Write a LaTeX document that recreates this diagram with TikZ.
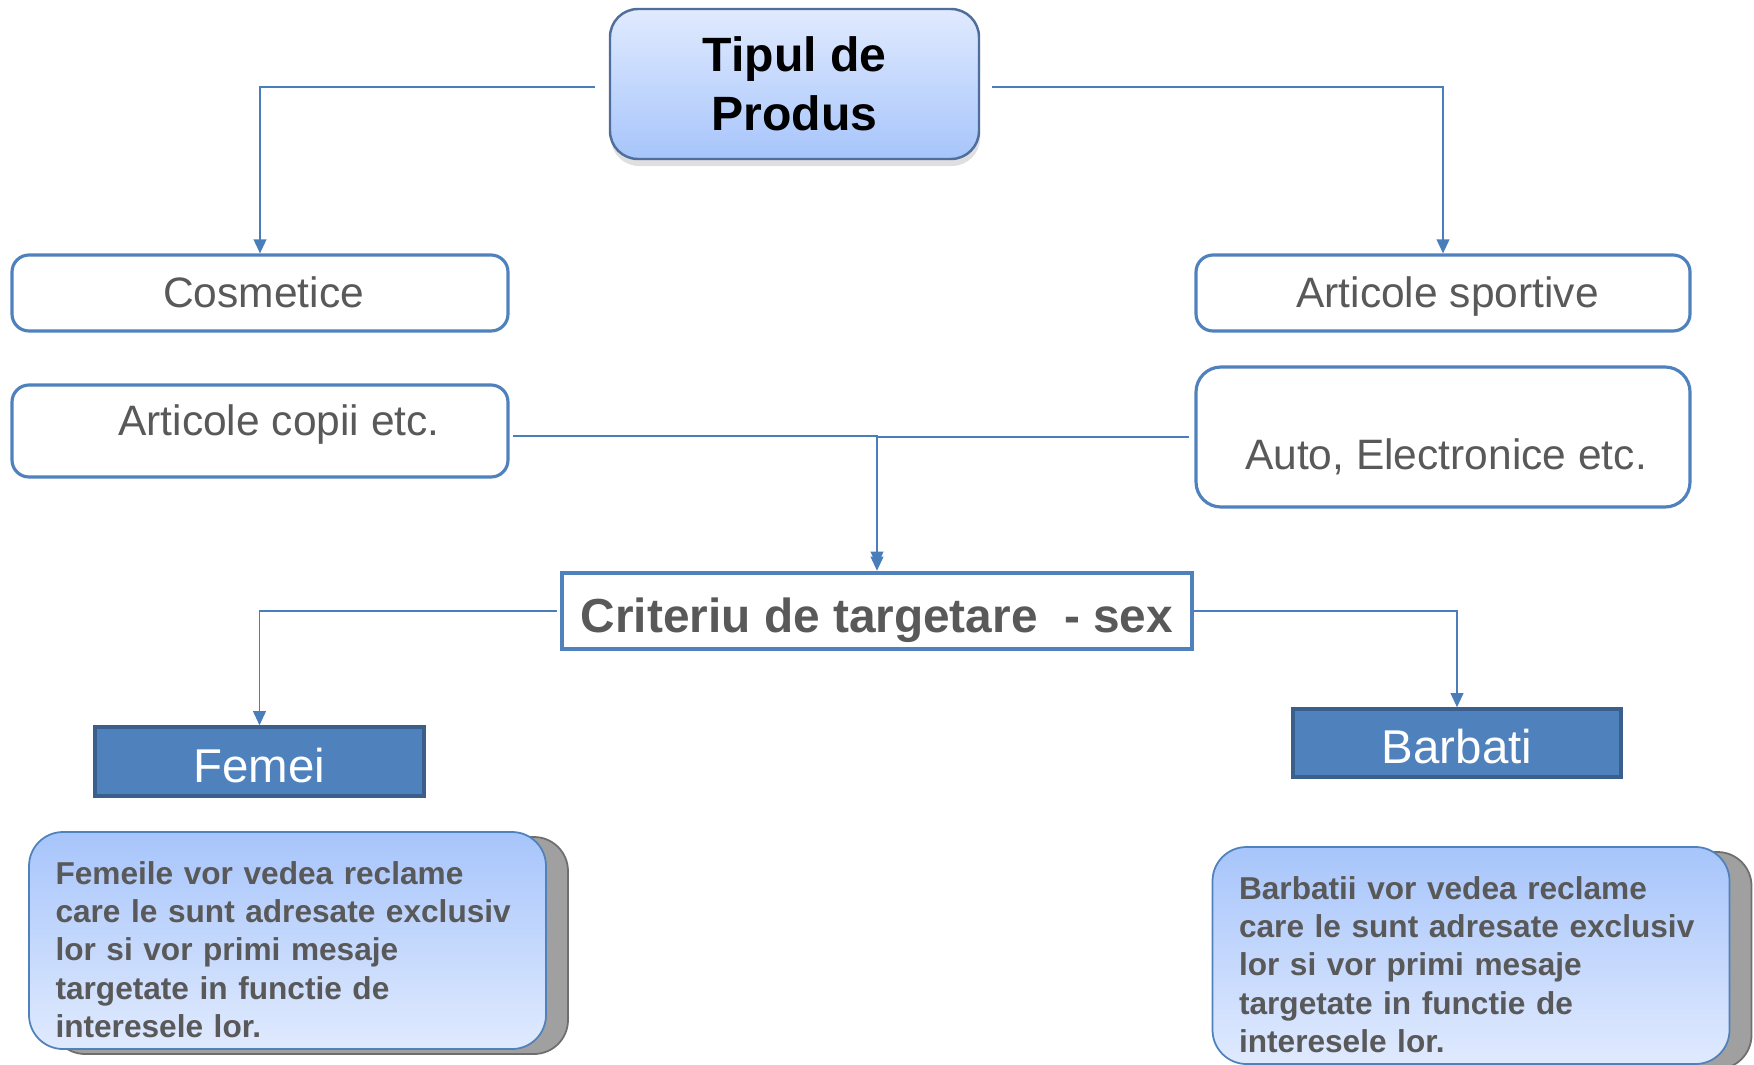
\documentclass[tikz,border=0pt]{standalone}
\usepackage{fontspec}
\setmainfont{Liberation Sans}
\usetikzlibrary{arrows.meta,shadows}

\definecolor{linkblue}{HTML}{4A7EBB}
\definecolor{boxblue}{HTML}{4F81BD}
\definecolor{boxedge}{HTML}{3A5F8C}
\definecolor{topedge}{HTML}{4F6E9C}
\definecolor{txtgray}{HTML}{595959}
\definecolor{paleblue}{HTML}{E0EAFE}
\definecolor{skyblue}{HTML}{A7C5FB}
\definecolor{shadegray}{HTML}{A0A0A0}
\definecolor{shadeedge}{HTML}{6E6E6E}

\tikzset{
  conn/.style={draw=linkblue, line width=0.55pt, -{Triangle[width=3.6pt,length=4pt]},
    to path={-| (\tikztotarget)}},
  cattext/.style={text=txtgray, font=\fontsize{12.1pt}{14pt}\selectfont, text height=2.9mm, text depth=0pt},
  catbox/.style={draw=boxblue, line width=0.9pt, rounded corners=1.7mm,
    fill=white, minimum width=49.6mm, inner sep=0pt},
  sexbox/.style={draw=boxedge, line width=1pt, fill=boxblue, text=white,
    font=\fontsize{13.5pt}{16pt}\selectfont, text height=4.1mm, text depth=0pt,
    minimum width=32.9mm, minimum height=6.9mm, inner sep=0pt},
  notetext/.style={text=txtgray, font=\bfseries\fontsize{9pt}{10.9pt}\selectfont,
    text width=46.4mm, align=left, inner sep=0pt, shift={(0mm,-0.9mm)}},
  notebox/.style={draw=boxblue, line width=0.5pt, rounded corners=3.4mm,
    top color=skyblue, bottom color=paleblue, minimum width=51.7mm, minimum height=21.7mm, inner sep=0pt,
    general shadow={shadow xshift=2.2mm, shadow yshift=-0.5mm, fill=shadegray, draw=shadeedge, line width=0.5pt}}
}

\begin{document}
\begin{tikzpicture}[x=0.1mm, y=-0.1mm]
  \useasboundingbox (0,0) rectangle (1754,1064);

  \node[draw=topedge, line width=0.7pt, rounded corners=2.8mm, top color=paleblue, bottom color=skyblue,
    minimum width=36.9mm, minimum height=15mm, align=center, font=\bfseries\fontsize{13.7pt}{16.8pt}\selectfont,
    drop shadow={shadow xshift=0.1mm, shadow yshift=-0.7mm, opacity=0.25}] (top) at (794.5,84) {Tipul de\\Produs};

  \node[catbox, minimum height=7.6mm,
    label={[cattext, shift={(0.35mm,0mm)}]center:Cosmetice}] (cosm) at (260,293) {};
  \node[catbox, minimum height=7.6mm, minimum width=49.4mm,
    label={[cattext, shift={(0.45mm,0mm)}]center:Articole sportive}] (sport) at (1443,293) {};
  \node[catbox, minimum height=9.2mm,
    label={[cattext, shift={(1.9mm,1mm)}]center:Articole copii etc.}] (copii) at (260,431) {};
  \node[catbox, minimum height=14mm, minimum width=49.4mm, rounded corners=2.5mm,
    label={[cattext, shift={(0.3mm,-1.75mm)}]center:Auto, Electronice etc.}] (auto) at (1443,437) {};

  \node[draw=boxblue, line width=1.3pt, fill=white, minimum width=63mm, minimum height=7.6mm, inner sep=0pt,
    text=txtgray, font=\bfseries\fontsize{13.6pt}{16pt}\selectfont, text height=4.3mm, text depth=0pt] (crit) at (877,611) {Criteriu de targetare~ - sex};

  \node[sexbox] (femei) at (259.5,761.5) {Femei};
  \node[sexbox, minimum width=32.8mm, minimum height=6.8mm] (barb) at (1457,743) {Barbati};

  \node[notebox,
    label={[notetext]center:Femeile vor vedea reclame\\care le sunt adresate exclusiv\\lor si vor primi mesaje\\targetate in functie de\\interesele lor.}] (femnote) at (287.5,940.5) {};
  \node[notebox,
    label={[notetext]center:Barbatii vor vedea reclame\\care le sunt adresate exclusiv\\lor si vor primi mesaje\\targetate in functie de\\interesele lor.}] (barbnote) at (1471,955.5) {};

  \path ([yshift=-0.3mm]top.west) edge[conn, shorten <=1.4mm] (cosm.north);
  \path ([yshift=-0.3mm]top.east) edge[conn, shorten <=1.2mm] (sport.north);
  \path ([yshift=-0.5mm]copii.east) edge[conn, shorten <=0.3mm, shorten >=0.5mm] (crit.north);
  \path (auto.west) edge[conn, shorten <=0.5mm] (crit.north);
  \path (crit.west) edge[conn, shorten <=0.3mm] (femei.north);
  \path (crit.east) edge[conn] (barb.north);
\end{tikzpicture}
\end{document}
